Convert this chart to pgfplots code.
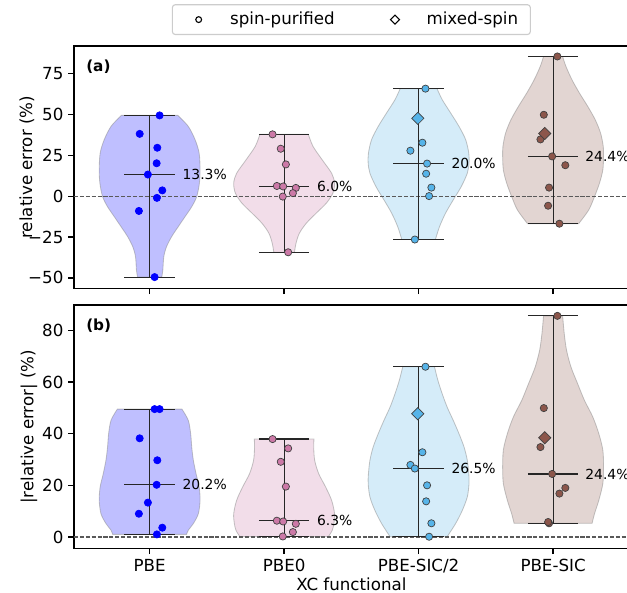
\documentclass[border=0pt]{standalone}
\usepackage{fontspec}
\setmainfont{DejaVu Sans}
\usepackage{pgfplots}
\usepackage{pgfplotstable}
\pgfplotsset{compat=1.18}
\usepgfplotslibrary{fillbetween}

\definecolor{cPBE}{HTML}{0000FF}
\definecolor{cPBEz}{HTML}{CC79A7}
\definecolor{cSICh}{HTML}{56B4E9}
\definecolor{cSIC}{HTML}{8C564B}

% violin outlines: value v, half width w (x units)
\pgfplotstableread{
v w
49.5 0.210
42.8 0.287
34.6 0.338
26.4 0.368
16.2 0.375
8.0 0.370
-0.2 0.350
-6.4 0.313
-12.5 0.263
-18.7 0.212
-24.8 0.163
-31.0 0.125
-37.1 0.105
-45.3 0.098
-49.5 0.090
}\vPBEa
\pgfplotstableread{
v w
37.9 0.180
30.5 0.215
22.3 0.283
14.1 0.353
8.0 0.375
1.8 0.362
-4.3 0.313
-10.4 0.238
-16.5 0.165
-22.7 0.113
-28.9 0.088
-34.3 0.077
}\vPBEza
\pgfplotstableread{
v w
65.9 0.137
59.2 0.175
51.0 0.238
42.8 0.300
34.6 0.350
26.4 0.373
20.3 0.375
14.1 0.362
5.9 0.317
-2.3 0.257
-10.4 0.200
-18.7 0.155
-26.5 0.125
}\vSIChA
\pgfplotstableread{
v w
85.6 0.071
79.6 0.095
71.4 0.140
63.3 0.195
55.1 0.257
46.9 0.313
38.7 0.353
30.5 0.373
24.3 0.375
16.2 0.370
8.0 0.345
-0.2 0.308
-8.4 0.265
-16.8 0.190
}\vSICa
\pgfplotstableread{
v w
49.5 0.240
45.2 0.287
40.0 0.305
34.8 0.313
29.7 0.325
24.5 0.345
19.4 0.368
14.2 0.375
9.0 0.362
5.2 0.325
2.6 0.287
1.0 0.275
}\vPBEb
\pgfplotstableread{
v w
37.9 0.222
34.8 0.220
29.7 0.227
24.5 0.257
19.4 0.308
14.2 0.353
9.0 0.375
5.2 0.370
2.6 0.358
0.2 0.330
}\vPBEzb
\pgfplotstableread{
v w
65.9 0.118
60.7 0.143
55.5 0.175
50.3 0.212
45.2 0.257
40.0 0.300
34.8 0.338
29.7 0.362
24.5 0.373
20.7 0.375
15.5 0.362
10.3 0.325
5.2 0.275
0.1 0.212
}\vSIChB
\pgfplotstableread{
v w
85.6 0.071
78.7 0.083
72.3 0.100
65.8 0.133
59.4 0.182
52.9 0.233
46.5 0.295
40.0 0.340
33.6 0.370
27.1 0.375
20.7 0.370
14.2 0.340
9.0 0.308
5.3 0.290
}\vSICb

% data points: x (jittered), signed error a, absolute error b
\pgfplotstableread{
x a b
1.074 49.5 49.5
0.926 38.2 38.2
1.057 29.7 29.7
1.052 20.2 20.2
0.987 13.3 13.3
1.094 3.6 3.6
1.054 -1.0 1.0
0.920 -9.0 9.0
1.037 -49.5 49.5
}\pPBE
\pgfplotstableread{
x a b
1.914 37.9 37.9
1.975 29.1 29.1
2.013 19.5 19.5
1.946 6.3 6.3
1.993 6.0 6.0
2.087 5.1 5.1
2.065 1.9 1.9
1.990 -0.2 0.2
2.030 -34.3 34.3
}\pPBEz
\pgfplotstableread{
x a b
3.051 65.9 65.9
3.028 32.8 32.8
2.939 27.9 27.9
3.063 20.0 20.0
3.056 13.8 13.8
3.095 5.3 5.3
3.078 0.1 0.1
2.972 -26.5 26.5
}\pSICh
\pgfplotstableread{
x a b
4.032 85.6 85.6
3.931 49.9 49.9
3.906 34.8 34.8
3.993 24.4 24.4
4.091 19.0 19.0
3.970 5.3 5.3
3.963 -5.8 5.8
4.047 -16.8 16.8
}\pSIC
% mixed-spin points
\pgfplotstableread{
x a b
2.994 47.7 47.7
}\mSICh
\pgfplotstableread{
x a b
3.938 38.4 38.4
}\mSIC

\pgfplotsset{
  violinaxis/.style={
    scale only axis, width=399.4pt,
    xmin=0.4375, xmax=4.5625,
    tick pos=left, tick align=outside, major tick length=4.1pt,
    axis line style={line width=1pt},
    tick style={black, line width=1pt},
    tick label style={font=\fontsize{12}{14}\selectfont},
    label style={font=\fontsize{12}{14}\selectfont},
    xtick={1,2,3,4},
    unbounded coords=jump,
  },
  body/.style={fill=#1, fill opacity=0.25, draw=black!45, draw opacity=0.5, line width=0.6pt},
  stat/.style={black!85, line width=0.85pt, forget plot},
  zero/.style={black!65, line width=0.8pt, dash pattern=on 2.96pt off 1.28pt, forget plot},
  pts/.style={only marks, mark=*, mark size=2.6pt, forget plot,
    mark options={fill=#1, draw=black!75, line width=0.5pt}},
  dia/.style={only marks, mark=square*, mark size=3.1pt, forget plot,
    mark options={rotate=45, fill=#1, draw=black!75, line width=0.5pt}},
  legcirc/.style={legend image code/.code={
    \path (-9.7pt,0pt) (9.7pt,0pt);
    \draw[only marks, mark=*, mark size=2.1pt, mark options={fill=white, draw=black, line width=0.8pt}] plot coordinates {(0pt,0pt)};}},
  legdia/.style={legend image code/.code={
    \path (-9.7pt,0pt) (9.7pt,0pt);
    \draw[only marks, mark=square*, mark size=2.3pt, mark options={rotate=45, fill=white, draw=black, line width=0.8pt}] plot coordinates {(0pt,0pt)};}},
}
\tikzset{
  annot/.style={anchor=west, inner sep=0pt, font=\fontsize{10}{12}\selectfont},
  plabel/.style={anchor=west, inner sep=0pt, font=\bfseries\fontsize{11}{13}\selectfont},
}

\begin{document}
\begin{tikzpicture}

\begin{axis}[violinaxis,
  at={(53.28pt,-33.12pt)}, anchor=north west, height=174.5pt,
  ymin=-56.4, ymax=92.0,
  ytick={-50,-25,0,25,50,75},
  yticklabels={−50,−25,0,25,50,75},
  xticklabels={},
  ylabel={relative error (\%)},
  ylabel style={at={(axis description cs:-0.0847,0.5)}, anchor=center},
  legend style={at={(0.5,1)}, anchor=south, yshift=7.9pt,
    draw=black!20, line width=0.8pt, rounded corners=2pt,
    inner xsep=8.8pt, inner ysep=5.4pt,
    font=\fontsize{12}{14}\selectfont, nodes={inner sep=0pt},
    /tikz/every odd column/.append style={column sep=12.6pt},
    /tikz/every even column/.append style={column sep=33.4pt}},
  legend columns=2,
]
\addlegendimage{legcirc}
\addlegendimage{legdia}
\legend{spin-purified, mixed-spin}

\addplot[zero] coordinates {(0.4375,0) (4.5625,0)};

\addplot[draw=none, forget plot, smooth, name path=ra1] table[x expr=1+\thisrow{w}, y=v] {\vPBEa};
\addplot[draw=none, forget plot, smooth, name path=la1] table[x expr=1-\thisrow{w}, y=v] {\vPBEa};
\addplot[body=cPBE, forget plot] fill between[of=ra1 and la1, reverse=true];
\addplot[draw=none, forget plot, smooth, name path=ra2] table[x expr=2+\thisrow{w}, y=v] {\vPBEza};
\addplot[draw=none, forget plot, smooth, name path=la2] table[x expr=2-\thisrow{w}, y=v] {\vPBEza};
\addplot[body=cPBEz, forget plot] fill between[of=ra2 and la2, reverse=true];
\addplot[draw=none, forget plot, smooth, name path=ra3] table[x expr=3+\thisrow{w}, y=v] {\vSIChA};
\addplot[draw=none, forget plot, smooth, name path=la3] table[x expr=3-\thisrow{w}, y=v] {\vSIChA};
\addplot[body=cSICh, forget plot] fill between[of=ra3 and la3, reverse=true];
\addplot[draw=none, forget plot, smooth, name path=ra4] table[x expr=4+\thisrow{w}, y=v] {\vSICa};
\addplot[draw=none, forget plot, smooth, name path=la4] table[x expr=4-\thisrow{w}, y=v] {\vSICa};
\addplot[body=cSIC, forget plot] fill between[of=ra4 and la4, reverse=true];

% min / max / median bars and extent lines
\addplot[stat] coordinates {(0.8125,49.5) (1.1875,49.5) (nan,nan) (0.8125,-49.5) (1.1875,-49.5) (nan,nan) (0.8125,13.3) (1.1875,13.3) (nan,nan) (1,-49.5) (1,49.5)};
\addplot[stat] coordinates {(1.8125,37.9) (2.1875,37.9) (nan,nan) (1.8125,-34.3) (2.1875,-34.3) (nan,nan) (1.8125,6.0) (2.1875,6.0) (nan,nan) (2,-34.3) (2,37.9)};
\addplot[stat] coordinates {(2.8125,65.9) (3.1875,65.9) (nan,nan) (2.8125,-26.5) (3.1875,-26.5) (nan,nan) (2.8125,20.0) (3.1875,20.0) (nan,nan) (3,-26.5) (3,65.9)};
\addplot[stat] coordinates {(3.8125,85.6) (4.1875,85.6) (nan,nan) (3.8125,-16.8) (4.1875,-16.8) (nan,nan) (3.8125,24.4) (4.1875,24.4) (nan,nan) (4,-16.8) (4,85.6)};

\addplot[only marks, mark=*, mark size=2.6pt, forget plot, mark options={fill=cPBE, draw=cPBE, line width=0.5pt}] table[x=x, y=a] {\pPBE};
\addplot[pts=cPBEz] table[x=x, y=a] {\pPBEz};
\addplot[pts=cSICh] table[x=x, y=a] {\pSICh};
\addplot[dia=cSICh] table[x=x, y=a] {\mSICh};
\addplot[pts=cSIC] table[x=x, y=a] {\pSIC};
\addplot[dia=cSIC] table[x=x, y=a] {\mSIC};

\node[annot] at (axis cs:1.243,13.3) {13.3\%};
\node[annot] at (axis cs:2.243,6.0) {6.0\%};
\node[annot] at (axis cs:3.243,20.0) {20.0\%};
\node[annot] at (axis cs:4.238,24.4) {24.4\%};
\node[plabel] at (rel axis cs:0.0216,0.914) {(a)};
\end{axis}

\begin{axis}[violinaxis,
  at={(53.28pt,-219.6pt)}, anchor=north west, height=175.2pt,
  ymin=-4.4, ymax=89.8,
  ytick={0,20,40,60,80},
  yticklabels={0,20,40,60,80},
  xticklabels={PBE,PBE0,PBE-SIC/2,PBE-SIC},
  xticklabel style={text height=9pt, text depth=0pt},
  xlabel={XC functional},
  xlabel style={at={(axis description cs:0.5,-0.1714)}, anchor=base},
  ylabel={|relative error| (\%)},
  ylabel style={at={(axis description cs:-0.0811,0.5)}, anchor=center},
]
\addplot[zero] coordinates {(0.4375,0) (4.5625,0)};

\addplot[draw=none, forget plot, smooth, name path=rb1] table[x expr=1+\thisrow{w}, y=v] {\vPBEb};
\addplot[draw=none, forget plot, smooth, name path=lb1] table[x expr=1-\thisrow{w}, y=v] {\vPBEb};
\addplot[body=cPBE, forget plot] fill between[of=rb1 and lb1, reverse=true];
\addplot[draw=none, forget plot, smooth, name path=rb2] table[x expr=2+\thisrow{w}, y=v] {\vPBEzb};
\addplot[draw=none, forget plot, smooth, name path=lb2] table[x expr=2-\thisrow{w}, y=v] {\vPBEzb};
\addplot[body=cPBEz, forget plot] fill between[of=rb2 and lb2, reverse=true];
\addplot[draw=none, forget plot, smooth, name path=rb3] table[x expr=3+\thisrow{w}, y=v] {\vSIChB};
\addplot[draw=none, forget plot, smooth, name path=lb3] table[x expr=3-\thisrow{w}, y=v] {\vSIChB};
\addplot[body=cSICh, forget plot] fill between[of=rb3 and lb3, reverse=true];
\addplot[draw=none, forget plot, smooth, name path=rb4] table[x expr=4+\thisrow{w}, y=v] {\vSICb};
\addplot[draw=none, forget plot, smooth, name path=lb4] table[x expr=4-\thisrow{w}, y=v] {\vSICb};
\addplot[body=cSIC, forget plot] fill between[of=rb4 and lb4, reverse=true];

\addplot[stat] coordinates {(0.8125,49.5) (1.1875,49.5) (nan,nan) (0.8125,1.0) (1.1875,1.0) (nan,nan) (0.8125,20.2) (1.1875,20.2) (nan,nan) (1,1.0) (1,49.5)};
\addplot[stat] coordinates {(1.8125,37.9) (2.1875,37.9) (nan,nan) (1.8125,0.2) (2.1875,0.2) (nan,nan) (1.8125,6.3) (2.1875,6.3) (nan,nan) (2,0.2) (2,37.9)};
\addplot[stat] coordinates {(2.8125,65.9) (3.1875,65.9) (nan,nan) (2.8125,0.1) (3.1875,0.1) (nan,nan) (2.8125,26.5) (3.1875,26.5) (nan,nan) (3,0.1) (3,65.9)};
\addplot[stat] coordinates {(3.8125,85.6) (4.1875,85.6) (nan,nan) (3.8125,5.3) (4.1875,5.3) (nan,nan) (3.8125,24.4) (4.1875,24.4) (nan,nan) (4,5.3) (4,85.6)};

\addplot[only marks, mark=*, mark size=2.6pt, forget plot, mark options={fill=cPBE, draw=cPBE, line width=0.5pt}] table[x=x, y=b] {\pPBE};
\addplot[pts=cPBEz] table[x=x, y=b] {\pPBEz};
\addplot[pts=cSICh] table[x=x, y=b] {\pSICh};
\addplot[dia=cSICh] table[x=x, y=b] {\mSICh};
\addplot[pts=cSIC] table[x=x, y=b] {\pSIC};
\addplot[dia=cSIC] table[x=x, y=b] {\mSIC};

\node[annot] at (axis cs:1.243,20.2) {20.2\%};
\node[annot] at (axis cs:2.243,6.3) {6.3\%};
\node[annot] at (axis cs:3.243,26.5) {26.5\%};
\node[annot] at (axis cs:4.238,24.4) {24.4\%};
\node[plabel] at (rel axis cs:0.0216,0.914) {(b)};
\end{axis}

\pgfresetboundingbox
\path[use as bounding box] (0pt,0pt) rectangle (451.44pt,-426.24pt);
\end{tikzpicture}
\end{document}
